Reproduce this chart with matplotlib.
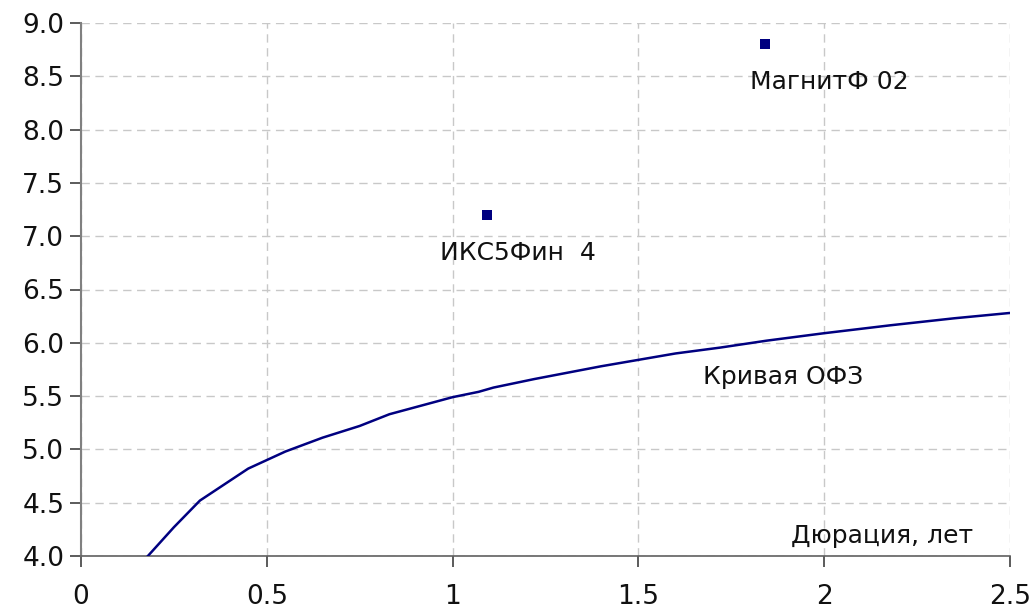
import matplotlib
matplotlib.use("Agg")
import matplotlib.pyplot as plt

# Curve data (OFZ yield curve)
curve_x = [0.18, 0.25, 0.32, 0.45, 0.55, 0.65, 0.75, 0.83, 1.0, 1.07, 1.11, 1.22,
           1.34, 1.40, 1.50, 1.60, 1.72, 1.845, 2.0, 2.18, 2.35, 2.5]
curve_y = [4.0, 4.27, 4.52, 4.82, 4.98, 5.11, 5.22, 5.33, 5.49, 5.54, 5.58, 5.66,
           5.74, 5.78, 5.84, 5.90, 5.955, 6.02, 6.09, 6.165, 6.23, 6.28]

# Bond points
bond_names = ["МагнитФ 02", "ИКС5Фин  4"]
bond_x = [1.84, 1.093]
bond_y = [8.80, 7.20]

x_ticks = [0, 0.5, 1, 1.5, 2, 2.5]
x_tick_labels = ["0", "0.5", "1", "1.5", "2", "2.5"]
y_ticks = [4.0, 4.5, 5.0, 5.5, 6.0, 6.5, 7.0, 7.5, 8.0, 8.5, 9.0]
y_tick_labels = [f"{v:.1f}" for v in y_ticks]

plt.rcParams['font.family'] = ['DejaVu Sans']

fig = plt.figure(figsize=(10.36, 6.11), dpi=100)
ax = fig.add_axes([81/1036, 1-556/611, (1010-81)/1036, (556-23)/611])

navy = "#000080"
ax.plot(curve_x, curve_y, color=navy, lw=1.8, zorder=3)
ax.scatter(bond_x, bond_y, marker="s", s=60, color=navy, zorder=4, linewidths=0)

ax.set_xlim(0, 2.5)
ax.set_ylim(4.0, 9.0)
ax.set_xticks(x_ticks)
ax.set_xticklabels(x_tick_labels)
ax.set_yticks(y_ticks)
ax.set_yticklabels(y_tick_labels)

ax.grid(True, color="#c8c8c8", linestyle=(0, (6, 4)), linewidth=1.0, zorder=0)
ax.set_axisbelow(True)

for s in ["top", "right"]:
    ax.spines[s].set_visible(False)
ax.spines["left"].set_color("#808080")
ax.spines["bottom"].set_color("#606060")
ax.spines["left"].set_linewidth(1.5)
ax.spines["bottom"].set_linewidth(1.2)

ax.tick_params(axis="both", direction="out", length=8, width=1.2,
               color="#404040", labelsize=19, labelcolor="#111111")
ax.tick_params(axis="x", pad=12)
ax.tick_params(axis="y", pad=4)

fs = 18
ax.text(2.013, 8.45, bond_names[0], ha="center", va="center", fontsize=fs, color="#111111")
ax.text(1.175, 6.84, bond_names[1], ha="center", va="center", fontsize=fs, color="#111111")
ax.text(1.889, 5.68, "Кривая ОФЗ", ha="center", va="center", fontsize=fs, color="#111111")
ax.text(2.40, 4.19, "Дюрация, лет", ha="right", va="center", fontsize=fs, color="#111111")

fig.savefig("out.png", dpi=100)
